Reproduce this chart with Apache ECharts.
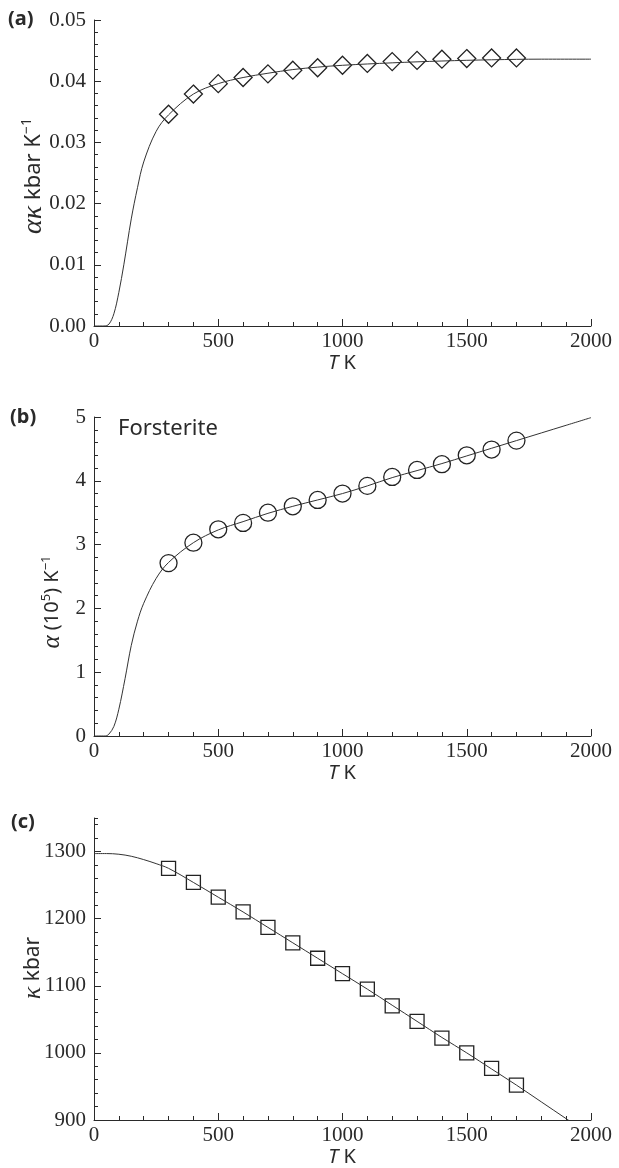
<!DOCTYPE html>
<html>
<head>
<meta charset="utf-8">
<script src="https://cdn.jsdelivr.net/npm/echarts@6/dist/echarts.min.js"></script>
<style>
  html, body { margin: 0; padding: 0; background: #fff; }
  #chart { width: 619px; height: 1168px; }
</style>
</head>
<body>
<div id="chart"></div>
<script>
// Measurement temperatures (K)
const T_MEAS = [300, 400, 500, 600, 700, 800, 900, 1000, 1100, 1200, 1300, 1400, 1500, 1600, 1700];

// (a) alpha*kappa, kbar/K
const AK_MEAS = [0.0346, 0.0379, 0.0396, 0.0406, 0.0412, 0.0418, 0.0422, 0.0426, 0.0429, 0.0432, 0.0434, 0.0436, 0.0437, 0.0438, 0.0438];
const T_FIT_A = [0, 40, 60, 80, 100, 120, 150, 175, 200, 250, 300, 400, 500, 600, 700, 800, 900, 1000, 1200, 1400, 1600, 1800, 2000];
const AK_FIT  = [0, 0, 0.0003, 0.0020, 0.0055, 0.0100, 0.0175, 0.0226, 0.0268, 0.0318, 0.0345, 0.0379, 0.0396, 0.0406, 0.0413, 0.0419, 0.0423, 0.0426, 0.0430, 0.0433, 0.0435, 0.0436, 0.0436];

// (b) thermal expansion alpha, 1e-5 /K
const ALPHA_MEAS = [2.71, 3.03, 3.24, 3.34, 3.50, 3.60, 3.70, 3.80, 3.92, 4.06, 4.17, 4.26, 4.40, 4.49, 4.63];
const T_FIT_B = [0, 45, 60, 80, 100, 125, 150, 175, 200, 250, 300, 400, 500, 600, 700, 800, 900, 1000, 1100, 1200, 1300, 1400, 1500, 1600, 1700, 1800, 1900, 2000];
const ALPHA_FIT = [0, 0, 0.03, 0.15, 0.42, 0.90, 1.42, 1.80, 2.08, 2.47, 2.72, 3.03, 3.23, 3.36, 3.49, 3.60, 3.70, 3.80, 3.92, 4.05, 4.16, 4.27, 4.39, 4.51, 4.63, 4.75, 4.87, 4.99];

// (c) bulk modulus kappa, kbar
const K_MEAS = [1275, 1254, 1232, 1210, 1187, 1164, 1141, 1118, 1095, 1070, 1047, 1022, 1000, 977, 952];
const T_FIT_C = [0, 50, 100, 150, 200, 250, 300, 400, 500, 600, 700, 800, 900, 1000, 1100, 1200, 1300, 1400, 1500, 1600, 1700, 1800, 1900, 2000];
const K_FIT   = [1297, 1297, 1296, 1293, 1288, 1282, 1275, 1254, 1232, 1210, 1187, 1164, 1141, 1118, 1095, 1071, 1047, 1023, 1000, 976, 952, 927, 902, 877];

// Labelled (major) tick values
const X_LABELS = [0, 500, 1000, 1500, 2000];
const Y_LABELS_A = [0, 0.01, 0.02, 0.03, 0.04, 0.05];
const Y_LABELS_B = [0, 1, 2, 3, 4, 5];
const Y_LABELS_C = [900, 1000, 1100, 1200, 1300];

const zip = (xs, ys) => xs.map((x, i) => [x, ys[i]]);

const INK = '#2a2a2a';
const SERIF = "'Liberation Serif', 'Times New Roman', serif";
const SANS = "'Noto Sans', 'Open Sans', sans-serif";

const grids = [
  { left: 94, top: 20,  width: 497, height: 306 },
  { left: 94, top: 417, width: 497, height: 319 },
  { left: 94, top: 818, width: 497, height: 302 }
];

// Axis carrying the line, major ticks and the tick labels
function majorAxis(dim, gi, min, max, labels, fmt) {
  return {
    type: 'value', gridIndex: gi, min: min, max: max,
    position: dim === 'x' ? 'bottom' : 'left', offset: 0,
    interval: labels[1] - labels[0],
    axisLine: { show: true, onZero: false, lineStyle: { color: INK, width: 1 } },
    axisTick: { show: true, inside: true, length: 7, lineStyle: { color: INK, width: 1 } },
    axisLabel: {
      margin: dim === 'x' ? 5 : 8, fontFamily: SERIF, fontSize: 21, color: INK,
      showMaxLabel: labels.indexOf(max) >= 0,
      formatter: fmt
    },
    splitLine: { show: false }
  };
}

// Overlay axis on the same side that only draws the short minor ticks
function minorAxis(dim, gi, min, max, step) {
  return {
    type: 'value', gridIndex: gi, min: min, max: max, interval: step,
    position: dim === 'x' ? 'bottom' : 'left', offset: 0,
    axisLine: { show: false, onZero: false },
    axisTick: { show: true, inside: true, length: 4, lineStyle: { color: INK, width: 1 } },
    axisLabel: { show: false },
    splitLine: { show: false }
  };
}

function fitLine(gi, xs, ys) {
  return {
    type: 'line', xAxisIndex: gi, yAxisIndex: gi, data: zip(xs, ys),
    symbol: 'none', showSymbol: false, smooth: 0.35,
    clip: true, silent: true,
    lineStyle: { color: '#333', width: 1 }
  };
}

function points(gi, ys, symbol, size) {
  return {
    type: 'scatter', xAxisIndex: gi, yAxisIndex: gi, data: zip(T_MEAS, ys),
    symbol: symbol, symbolSize: size, silent: true,
    itemStyle: { color: 'rgba(0,0,0,0)', borderColor: '#222', borderWidth: 1.3, opacity: 1 }
  };
}

function label(x, y, text, font) {
  return {
    type: 'text', x: x, y: y, silent: true,
    style: { text: text, font: font, fill: INK, textAlign: 'left', textVerticalAlign: 'middle' }
  };
}

function yName(x, y, text, size) {
  return {
    type: 'text', x: x, y: y, rotation: Math.PI / 2, silent: true,
    style: {
      text: text, font: size + 'px ' + SANS, fill: INK, textAlign: 'center', textVerticalAlign: 'middle',
      rich: {
        g: { fontFamily: SERIF, fontStyle: 'italic', fontSize: Math.round(size * 1.25), fill: INK },
        s: { fontFamily: SANS, fontSize: Math.round(size * 0.65), fill: INK, verticalAlign: 'top' }
      }
    }
  };
}

function xName(y) {
  return {
    type: 'text', x: 342, y: y, silent: true,
    style: {
      text: '{i|T} K', font: '20px ' + SANS, fill: INK, textAlign: 'center', textVerticalAlign: 'middle',
      rich: { i: { fontFamily: SANS, fontStyle: 'italic', fontSize: 20, fill: INK } }
    }
  };
}

const chart = echarts.init(document.getElementById('chart'), null, { renderer: 'canvas' });

chart.setOption({
  animation: false,
  backgroundColor: '#fff',
  grid: grids.map(g => Object.assign({ containLabel: false, outerBoundsMode: 'none' }, g)),
  xAxis: [
    majorAxis('x', 0, 0, 2000, X_LABELS, v => String(v)),
    majorAxis('x', 1, 0, 2000, X_LABELS, v => String(v)),
    majorAxis('x', 2, 0, 2000, X_LABELS, v => String(v)),
    minorAxis('x', 0, 0, 2000, 100),
    minorAxis('x', 1, 0, 2000, 100),
    minorAxis('x', 2, 0, 2000, 100)
  ],
  yAxis: [
    majorAxis('y', 0, 0, 0.05, Y_LABELS_A, v => v.toFixed(2)),
    majorAxis('y', 1, 0, 5, Y_LABELS_B, v => String(Math.round(v))),
    majorAxis('y', 2, 900, 1350, Y_LABELS_C, v => String(Math.round(v))),
    minorAxis('y', 0, 0, 0.05, 0.002),
    minorAxis('y', 1, 0, 5, 0.2),
    minorAxis('y', 2, 900, 1350, 20)
  ],
  series: [
    fitLine(0, T_FIT_A, AK_FIT),
    points(0, AK_MEAS, 'diamond', 18),
    fitLine(1, T_FIT_B, ALPHA_FIT),
    points(1, ALPHA_MEAS, 'circle', 17),
    fitLine(2, T_FIT_C, K_FIT),
    points(2, K_MEAS, 'rect', 14)
  ],
  graphic: [
    label(8, 19, '(a)', 'bold 20px ' + SANS),
    label(10, 417, '(b)', 'bold 20px ' + SANS),
    label(11, 822, '(c)', 'bold 20px ' + SANS),
    label(118, 429, 'Forsterite', '22px ' + SANS),
    yName(34, 176, '{g|ακ} kbar K{s|−1}', 22),
    yName(52, 602, '{g|α} (10{s|5}) K{s|−1}', 20),
    yName(33, 968, '{g|κ} kbar', 21),
    xName(363),
    xName(773),
    xName(1157)
  ]
});
</script>
</body>
</html>
